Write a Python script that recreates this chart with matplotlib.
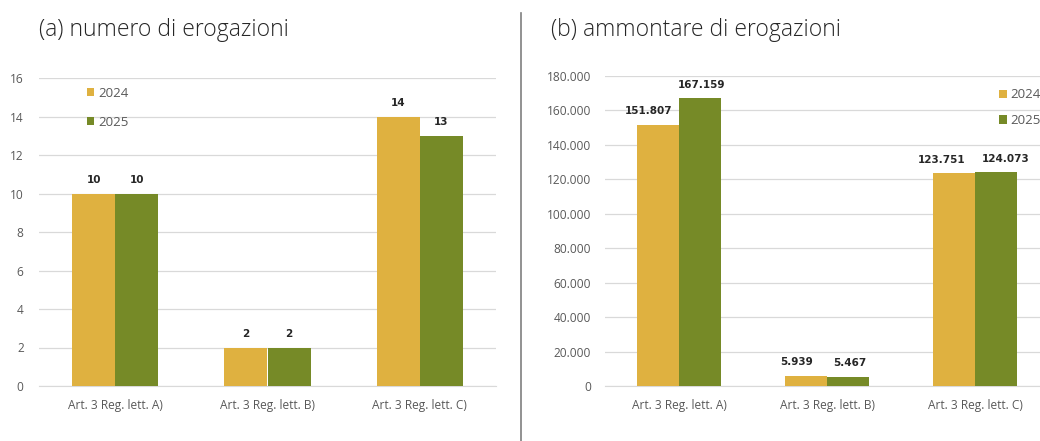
import numpy as np
import matplotlib
matplotlib.use("Agg")
import matplotlib.pyplot as plt

categorie = ["Art. 3 Reg. lett. A)", "Art. 3 Reg. lett. B)", "Art. 3 Reg. lett. C)"]
anni = ["2024", "2025"]
numero_2024 = [10, 2, 14]
numero_2025 = [10, 2, 13]
importo_2024 = [151807, 5939, 123751]
importo_2025 = [167159, 5467, 124073]

col_2024 = "#DFB140"
col_2025 = "#768A27"
grigio = "#D9D9D9"
testo = "#595959"

plt.rcParams["font.family"] = ["Open Sans", "DejaVu Sans"]


def fmt_it(v):
    # separatore delle migliaia all'italiana
    return f"{int(v):,}".replace(",", ".")


def disegna(ax, v1, v2, ymax, passo, off, dx1, dx2):
    x = np.arange(len(categorie))
    w = 0.283
    ax.bar(x - w / 2, v1, w, color=col_2024, label=anni[0], zorder=3)
    ax.bar(x + w / 2, v2, w, color=col_2025, label=anni[1], zorder=3)
    for xi, a, b, d1, d2 in zip(x, v1, v2, dx1, dx2):
        ax.annotate(fmt_it(a), (xi - w / 2, a), xytext=(d1, 6), textcoords="offset points",
                    ha="center", va="bottom", fontsize=7.5, fontweight="bold",
                    color="#262626", family="DejaVu Sans")
        ax.annotate(fmt_it(b), (xi + w / 2, b), xytext=(d2, 6), textcoords="offset points",
                    ha="center", va="bottom", fontsize=7.5, fontweight="bold",
                    color="#262626", family="DejaVu Sans")
    ax.set_xlim(-0.5, len(categorie) - 0.5)
    ax.set_ylim(0, ymax)
    ax.set_yticks(np.arange(0, ymax + passo, passo))
    ax.set_yticklabels([fmt_it(t) for t in np.arange(0, ymax + passo, passo)])
    ax.set_xticks(x)
    ax.set_xticklabels(categorie)
    ax.grid(axis="y", color=grigio, linewidth=0.9, zorder=0)
    for s in ["top", "right", "left"]:
        ax.spines[s].set_visible(False)
    ax.spines["bottom"].set_color(grigio)
    ax.tick_params(length=0, colors=testo, labelsize=8.6)
    ax.tick_params(axis="y", pad=off)
    ax.tick_params(axis="x", pad=9)


fig = plt.figure(figsize=(10.4, 4.41), dpi=100)
ax1 = fig.add_axes([39 / 1040, 55 / 441, 457 / 1040, 308 / 441])
ax2 = fig.add_axes([605 / 1040, 55 / 441, 444 / 1040, 310 / 441])

disegna(ax1, numero_2024, numero_2025, 16, 2, 11, [0, 0, 0], [0, 0, 0])
disegna(ax2, importo_2024, importo_2025, 180000, 20000, 10, [-7, -7, -9], [1, 1, 7])

ax1.legend(loc="upper left", bbox_to_anchor=(0.078, 1.01), frameon=False, fontsize=9.5,
           handlelength=0.6, handleheight=0.6, handletextpad=0.3, labelspacing=1.2,
           labelcolor=testo)
ax2.legend(loc="upper left", bbox_to_anchor=(0.86, 0.998), frameon=False, fontsize=9.5,
           handlelength=0.6, handleheight=0.6, handletextpad=0.3, labelspacing=0.95,
           labelcolor=testo)

fig.text(39 / 1040, 1 - 30 / 441, "(a) numero di erogazioni", fontsize=16.5,
         color="#262626", va="center", ha="left", fontweight="light")
fig.text(551 / 1040, 1 - 30 / 441, "(b) ammontare di erogazioni", fontsize=16.5,
         color="#262626", va="center", ha="left", fontweight="light")

# linea di separazione tra i due pannelli
fig.add_artist(plt.Line2D([521 / 1040, 521 / 1040], [0, 1 - 13 / 441],
                          color="#7F7F7F", linewidth=1.2))

fig.savefig("out.png", dpi=100)
